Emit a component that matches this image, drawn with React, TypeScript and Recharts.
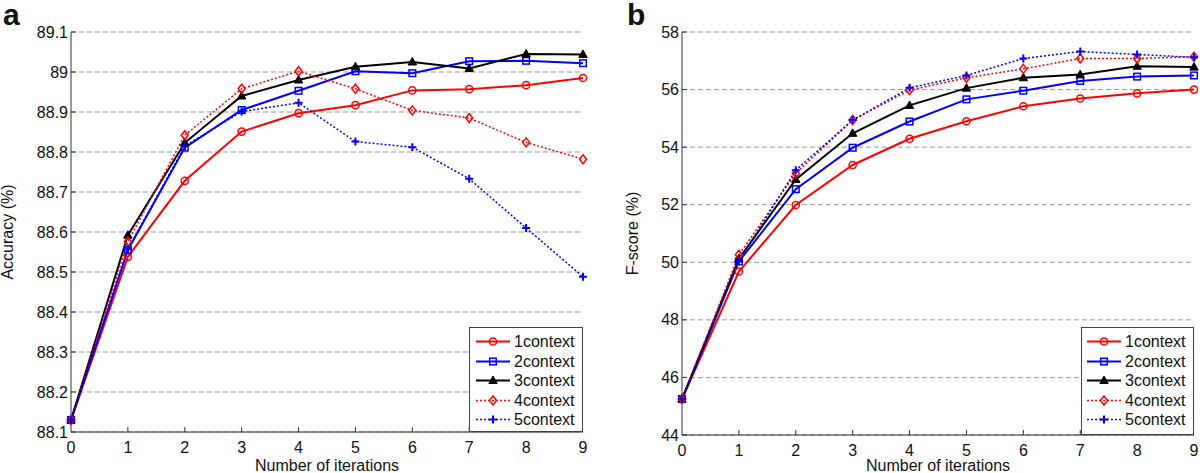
import React from "react";
import { LineChart, Line, XAxis, YAxis, CartesianGrid, Legend } from "recharts";

const iterations = [0, 1, 2, 3, 4, 5, 6, 7, 8, 9];
const seriesNames = ["1context", "2context", "3context", "4context", "5context"];

// panel a: accuracy (%)
const accuracy1 = [88.13, 88.538, 88.728, 88.851, 88.897, 88.917, 88.954, 88.957, 88.967, 88.985];
const accuracy2 = [88.13, 88.555, 88.811, 88.905, 88.953, 89.002, 88.997, 89.027, 89.028, 89.022];
const accuracy3 = [88.13, 88.592, 88.823, 88.94, 88.98, 89.013, 89.025, 89.009, 89.045, 89.044];
const accuracy4 = [88.13, 88.576, 88.842, 88.958, 89.002, 88.958, 88.904, 88.885, 88.824, 88.782];
const accuracy5 = [88.13, 88.557, 88.815, 88.901, 88.923, 88.826, 88.812, 88.733, 88.61, 88.488];
const accuracyTicks = [88.1, 88.2, 88.3, 88.4, 88.5, 88.6, 88.7, 88.8, 88.9, 89, 89.1];

// panel b: F-score (%)
const fscore1 = [45.25, 49.68, 51.99, 53.38, 54.29, 54.9, 55.42, 55.69, 55.87, 56.0];
const fscore2 = [45.25, 50.03, 52.54, 53.98, 54.89, 55.66, 55.96, 56.3, 56.45, 56.49];
const fscore3 = [45.25, 50.12, 52.88, 54.48, 55.45, 56.05, 56.41, 56.52, 56.81, 56.78];
const fscore4 = [45.25, 50.26, 53.09, 54.94, 55.98, 56.41, 56.72, 57.08, 57.08, 57.14];
const fscore5 = [45.25, 50.05, 53.2, 54.94, 56.06, 56.49, 57.08, 57.32, 57.22, 57.12];
const fscoreTicks = [44, 46, 48, 50, 52, 54, 56, 58];

const FONT = '"Liberation Sans", Arial, sans-serif';
const AXIS = "#333";

const STYLES = [
  { color: "#ff0000", marker: "circle", dash: undefined, width: 2 },
  { color: "#0000ff", marker: "square", dash: undefined, width: 2 },
  { color: "#000000", marker: "triangle", dash: undefined, width: 2 },
  { color: "#ff0000", marker: "diamond", dash: "2 2", width: 1.5 },
  { color: "#0000ff", marker: "plus", dash: "2 2", width: 1.5 },
];

function buildRows(values: number[][]) {
  return iterations.map((it, i) => {
    const row: Record<string, number> = { it };
    values.forEach((v, s) => (row[`s${s}`] = v[i]));
    return row;
  });
}

function Marker({ kind, cx, cy, color }: any) {
  switch (kind) {
    case "circle":
      return <circle cx={cx} cy={cy} r={3.6} fill="none" stroke={color} strokeWidth={1.5} />;
    case "square":
      return <rect x={cx - 3.3} y={cy - 3.3} width={6.6} height={6.6} fill="none" stroke={color} strokeWidth={1.5} />;
    case "triangle":
      return <path d={`M${cx},${cy - 4.5}L${cx + 4.2},${cy + 3}L${cx - 4.2},${cy + 3}Z`} fill={color} stroke={color} />;
    case "diamond":
      return <path d={`M${cx},${cy - 4.5}L${cx + 3.5},${cy}L${cx},${cy + 4.5}L${cx - 3.5},${cy}Z`} fill="none" stroke={color} strokeWidth={1.5} />;
    default:
      return <path d={`M${cx - 4},${cy}H${cx + 4}M${cx},${cy - 4}V${cy + 4}`} stroke={color} strokeWidth={2} />;
  }
}

const tickText = { fontSize: 16, fontFamily: FONT, fill: "#111" };

const BottomTick = (p: any) => (
  <g>
    {p.payload.value > 0 && p.payload.value < 9 && (
      <line x1={p.x} x2={p.x} y1={p.y} y2={p.y - 5} stroke={AXIS} />
    )}
    <text x={p.x} y={p.y + 21} textAnchor="middle" {...tickText}>
      {p.payload.value}
    </text>
  </g>
);

const TopTick = (p: any) => <line x1={p.x} x2={p.x} y1={p.y} y2={p.y + 5} stroke={AXIS} />;

const LeftTick = (p: any) => (
  <g>
    <line x1={p.x} x2={p.x + 5} y1={p.y} y2={p.y} stroke={AXIS} />
    <text x={p.x - 3} y={p.y + 5.5} textAnchor="end" {...tickText}>
      {p.payload.value}
    </text>
  </g>
);

const RightTick = (p: any) => <line x1={p.x} x2={p.x - 5} y1={p.y} y2={p.y} stroke={AXIS} />;

const XLabel = ({ viewBox }: any) => (
  <text x={viewBox.x + viewBox.width / 2} y={471} textAnchor="middle" {...tickText}>
    Number of iterations
  </text>
);

const YLabel = ({ viewBox, text, lx }: any) => {
  const cy = viewBox.y + viewBox.height / 2;
  return (
    <text x={lx} y={cy} textAnchor="middle" transform={`rotate(-90, ${lx}, ${cy})`} {...tickText}>
      {text}
    </text>
  );
};

function LegendBox({ payload, lineX }: any) {
  return (
    <div style={{ width: "100%", height: "100%", boxSizing: "border-box", border: "1px solid #444", background: "#fff", paddingTop: 4 }}>
      {payload.map((entry: any, i: number) => {
        const s = STYLES[i];
        return (
          <div key={entry.value} style={{ display: "flex", alignItems: "center", height: 19.5 }}>
            <svg width={lineX + 38} height={19} style={{ flex: "none" }}>
              <line x1={lineX} x2={lineX + 34} y1={9.5} y2={9.5} stroke={s.color} strokeWidth={s.width} strokeDasharray={s.dash} />
              <Marker kind={s.marker} cx={lineX + 17} cy={9.5} color={s.color} />
            </svg>
            <span style={{ fontFamily: FONT, color: "#111", fontSize: 16, lineHeight: "19px" }}>{entry.value}</span>
          </div>
        );
      })}
    </div>
  );
}

function Panel({ letter, rows, domain, ticks, yLabel, labelX, yWidth, rightMargin, xHeight, legend }: any) {
  return (
    <div style={{ position: "relative", width: 600, height: 473 }}>
      <LineChart width={600} height={473} data={rows} margin={{ top: 32, right: rightMargin, bottom: 0, left: 0 }}>
        <CartesianGrid vertical={false} stroke="#999" strokeDasharray="5 3" />
        <XAxis dataKey="it" type="number" domain={[0, 9]} ticks={iterations} height={xHeight}
          tickLine={false} tickSize={0} tickMargin={0} tick={BottomTick} stroke={AXIS}
          label={<XLabel />} />
        <XAxis xAxisId="top" orientation="top" dataKey="it" type="number" domain={[0, 9]} ticks={iterations}
          height={0} tickLine={false} tickSize={0} tickMargin={0} tick={TopTick} stroke={AXIS} />
        <YAxis type="number" domain={domain} ticks={ticks} width={yWidth} tickLine={false} tickSize={0}
          tickMargin={0} tick={LeftTick} stroke={AXIS} label={<YLabel text={yLabel} lx={labelX} />} />
        <YAxis yAxisId="right" orientation="right" type="number" domain={domain} ticks={ticks} width={0}
          tickLine={false} tickSize={0} tickMargin={0} tick={RightTick} stroke={AXIS} />
        <Legend layout="vertical" align="center" verticalAlign="middle"
          wrapperStyle={{ left: legend.left, top: legend.top, width: legend.width, height: legend.height }}
          content={(props: any) => <LegendBox payload={props.payload} lineX={legend.lineX} />} />
        {STYLES.map((s, i) => (
          <Line key={i} type="linear" dataKey={`s${i}`} name={seriesNames[i]} stroke={s.color}
            strokeWidth={s.width} strokeDasharray={s.dash} isAnimationActive={false}
            dot={(p: any) => <Marker key={p.index} kind={s.marker} cx={p.cx} cy={p.cy} color={s.color} />}
            activeDot={false} />
        ))}
      </LineChart>
      <div style={{ position: "absolute", left: letter.x, top: 0, font: `bold 30px ${FONT}`, lineHeight: "30px", color: "#111" }}>
        {letter.text}
      </div>
    </div>
  );
}

export default function App() {
  const accRows = buildRows([accuracy1, accuracy2, accuracy3, accuracy4, accuracy5]);
  const fRows = buildRows([fscore1, fscore2, fscore3, fscore4, fscore5]);
  return (
    <div style={{ position: "absolute", left: 0, top: 0, width: 1200, height: 473, background: "#fff", display: "flex" }}>
      <Panel letter={{ text: "a", x: 3 }} rows={accRows} domain={[88.1, 89.1]} ticks={accuracyTicks}
        yLabel="Accuracy (%)" labelX={13} yWidth={71} rightMargin={17} xHeight={41}
        legend={{ left: 469, top: 327, width: 114, height: 105, lineX: 6 }} />
      <Panel letter={{ text: "b", x: 27 }} rows={fRows} domain={[44, 58]} ticks={fscoreTicks}
        yLabel="F-score (%)" labelX={38} yWidth={82} rightMargin={6} xHeight={38}
        legend={{ left: 481, top: 327, width: 113, height: 108, lineX: 5 }} />
    </div>
  );
}
